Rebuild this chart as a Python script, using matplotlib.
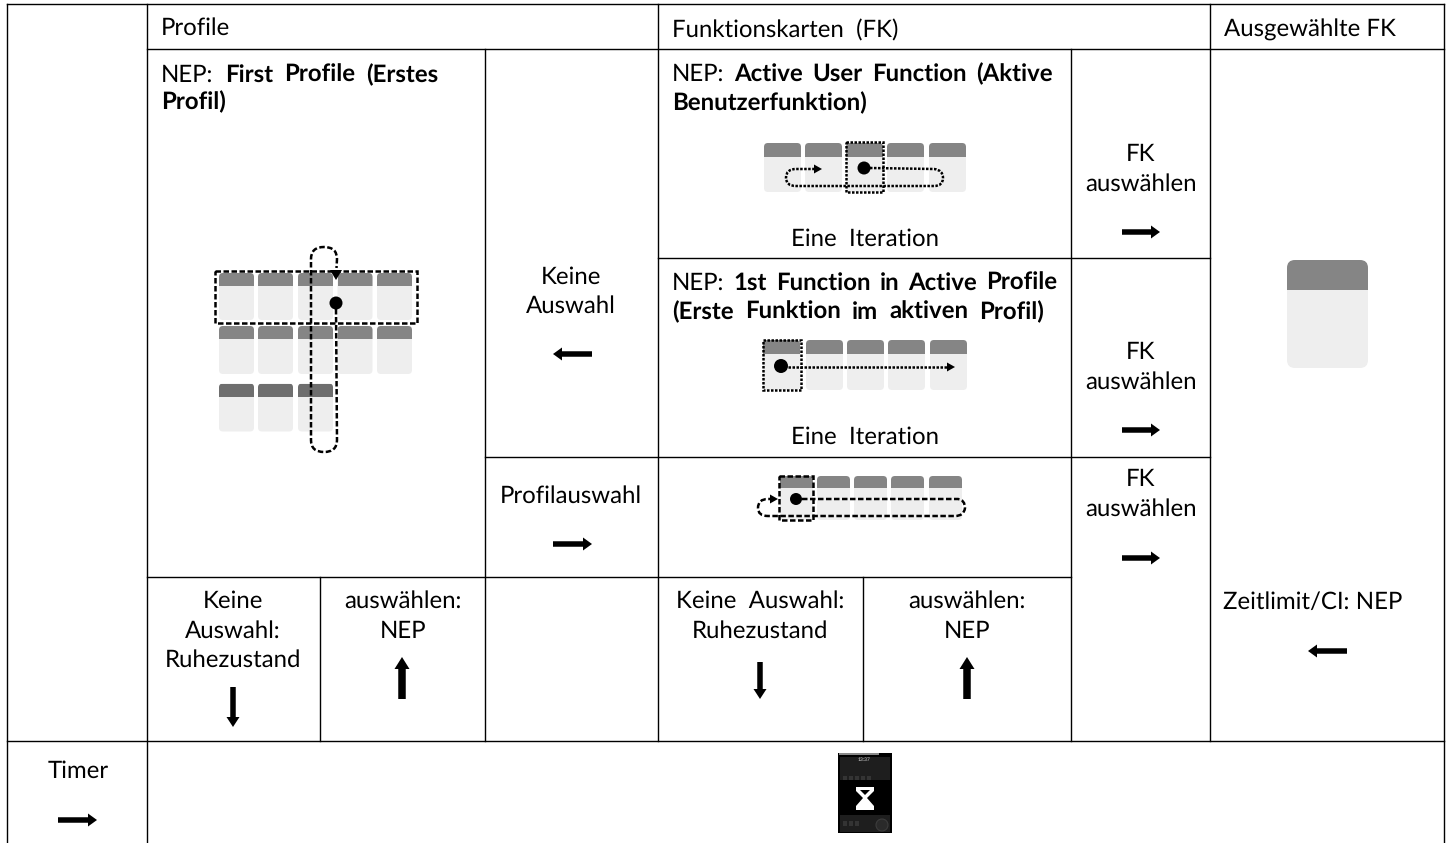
import matplotlib
matplotlib.use("Agg")
import matplotlib.pyplot as plt
from matplotlib.patches import FancyBboxPatch, Rectangle, Circle, PathPatch, Polygon
from matplotlib.path import Path

plt.rcParams['font.family'] = ['Lato', 'DejaVu Sans']
plt.rcParams['text.hinting'] = 'no_hinting'
plt.rcParams['text.hinting_factor'] = 1
FS = 17

# table rules: (x0, y0, x1, y1)
RULES = [
    (7, 4, 1444, 4), (147, 49, 1444, 49), (658, 258, 1210, 258), (485, 457, 1210, 457),
    (147, 577, 1071, 577), (7, 741, 1444, 741),
    (7, 4, 7, 843), (147, 4, 147, 843), (1444, 4, 1444, 843),
    (485, 49, 485, 741), (658, 4, 658, 741), (1071, 49, 1071, 741), (1210, 4, 1210, 741),
    (320, 577, 320, 741), (863, 577, 863, 741),
]
# centred labels: (x, baseline, text)
CENTERED = [
    (571, 284, "Keine"), (571, 313, "Auswahl"), (571, 503, "Profilauswahl"),
    (865, 246, "Eine  Iteration"), (865, 444, "Eine  Iteration"),
    (1141, 161, "FK"), (1141, 191, "auswählen"), (1141, 359, "FK"), (1141, 389, "auswählen"),
    (1141, 486, "FK"), (1141, 516, "auswählen"),
    (233, 608, "Keine"), (233, 638, "Auswahl:"), (233, 667, "Ruhezustand"),
    (403, 608, "auswählen:"), (403, 638, "NEP"),
    (760, 608, "Keine  Auswahl:"), (760, 638, "Ruhezustand"),
    (967, 608, "auswählen:"), (967, 638, "NEP"),
    (1313, 609, "Zeitlimit/CI: NEP"), (78, 778, "Timer"),
]
# left labels: (x, baseline, text)
LEFT = [(161, 35, "Profile"), (672, 37, "Funktionskarten  (FK)"), (1224, 37, "Ausgewählte FK")]
# mixed runs: (x, right edge or None, baseline, [(text, bold), ...])
RUNS = [
    (161, 438, 82, [("NEP:", False), ("First", True), ("Profile", True), ("(Erstes", True)]),
    (161, None, 109, [("Profil)", True)]),
    (672, 1053, 81, [("NEP:", False), ("Active", True), ("User", True), ("Function", True), ("(Aktive", True)]),
    (672, None, 110, [("Benutzerfunktion)", True)]),
    (672, 1057, 290, [("NEP:", False), ("1st", True), ("Function", True), ("in", True), ("Active", True), ("Profile", True)]),
    (672, 1044, 319, [("(Erste", True), ("Funktion", True), ("im", True), ("aktiven", True), ("Profil)", True)]),
]
# horizontal arrows: (x0, y, x1)
H_ARROWS = [
    (592, 354, 553), (553, 544, 592),
    (1122, 232, 1160), (1122, 430, 1160), (1122, 558, 1160),
    (1347, 651, 1308), (58, 820, 97),
]
# vertical arrows: (x, y0, y1)
DOWN_ARROWS = [(233, 687, 727), (760, 662, 699)]
UP_ARROWS = [(402, 699, 657), (967, 699, 657)]
# card groups: (x lefts, y top, width, height, header height, header colour)
CARDS = [
    ([219, 258, 298, 337.5, 377], 273, 35, 47, 13, "#858585"),
    ([219, 258, 298, 337.5, 377], 326, 35, 48, 13, "#858585"),
    ([219, 258, 298], 383.5, 35, 48, 13, "#6e6e6e"),
    ([764, 805, 846, 887, 929], 143, 37, 49, 14, "#858585"),
    ([763, 806, 847, 888, 930], 340, 37, 50, 14, "#858585"),
    ([780, 817, 854, 891, 929], 476, 33, 44, 12, "#858585"),
    ([1287], 260, 81, 108, 30, "#858585"),
]
# black dots: (x, y, radius)
DOTS = [(336, 303, 6.5), (864, 168, 6.5), (781, 366, 7), (796, 499, 6)]
# highlight rectangles: (x, y, w, h, style)
FRAMES = [
    (215, 271, 202, 52, "dashed"), (846, 142, 37, 50, "dotted"),
    (763, 340, 38, 50, "dotted"), (779, 476, 34, 44, "dashed"),
]
STYLES = {"dashed": (0, (2.2, 1.0)), "dotted": (0, (1.0, 0.6))}
# focus paths: style, vertices (M, then L or Q pairs) and arrow tip
FOCUS = [
    ("dashed", [("M", 336, 309), ("L", 337, 440), ("Q", 337, 452), ("", 324, 452),
                ("Q", 311, 452), ("", 311, 440), ("L", 311, 259), ("Q", 311, 247), ("", 324, 247),
                ("Q", 337, 247), ("", 337, 259), ("L", 336.5, 268)], (336, 276, "d")),
    ("dotted", [("M", 870, 168), ("L", 934, 169), ("Q", 943, 170), ("", 943, 178),
                ("Q", 943, 186), ("", 934, 186), ("L", 796, 186), ("Q", 786, 186), ("", 786, 178),
                ("Q", 786, 169), ("", 796, 169), ("L", 815, 169)], (821, 169, "r")),
    ("dotted", [("M", 788, 367), ("L", 947, 367)], (954, 367, "r")),
    ("dashed", [("M", 802, 499), ("L", 958, 499), ("Q", 965, 500), ("", 965, 508),
                ("Q", 964, 516), ("", 955, 516), ("L", 768, 516), ("Q", 758, 516), ("", 758, 508),
                ("Q", 758, 499), ("", 768, 499), ("L", 772, 499)], (777, 499, "r")),
]

fig = plt.figure(figsize=(14.51, 8.43), dpi=100)
ax = fig.add_axes([0, 0, 1, 1])
ax.set_xlim(0, 1451)
ax.set_ylim(843, 0)
ax.axis("off")

for x0, y0, x1, y1 in RULES:
    ax.plot([x0, x1], [y0, y1], color="black", lw=1.0, solid_capstyle="projecting", zorder=5)

for xs, y, w, h, hh, col in CARDS:
    for x in xs:
        r = 8 if w > 50 else 4
        card = FancyBboxPatch((x, y), w, h, boxstyle=f"round,pad=0,rounding_size={r}",
                              fc="#eeeeee", ec="none", zorder=1)
        ax.add_patch(card)
        head = Rectangle((x, y), w, hh, fc=col, ec="none", zorder=1.2)
        ax.add_patch(head)
        head.set_clip_path(card)

for x, y, w, h, st in FRAMES:
    ax.add_patch(Rectangle((x, y), w, h, fill=False, ec="black", lw=1.8, ls=STYLES[st], zorder=3))

CODES = {"M": Path.MOVETO, "L": Path.LINETO, "Q": Path.CURVE3, "": Path.CURVE3}
for st, verts, (tx, ty, d) in FOCUS:
    p = Path([(v[1], v[2]) for v in verts], [CODES[v[0]] for v in verts])
    ax.add_patch(PathPatch(p, fill=False, ec="black", lw=1.8, ls=STYLES[st], zorder=3))
    if d == "r":
        tri = [(tx - 7, ty - 4.5), (tx + 1, ty), (tx - 7, ty + 4.5)]
    else:
        tri = [(tx - 6, ty - 6), (tx + 6, ty - 6), (tx, ty + 4)]
    ax.add_patch(Polygon(tri, fc="black", ec="none", zorder=3.2))

for x, y, r in DOTS:
    ax.add_patch(Circle((x, y), r, fc="black", ec="none", zorder=4))

for x0, y, x1 in H_ARROWS:
    ax.arrow(x0, y, x1 - x0, 0, width=5.5, head_width=13, head_length=9,
             length_includes_head=True, fc="black", ec="none", zorder=4)
for x, y0, y1 in DOWN_ARROWS:
    ax.arrow(x, y0, 0, y1 - y0, width=5.5, head_width=13, head_length=10,
             length_includes_head=True, fc="black", ec="none", zorder=4)
for x, y0, y1 in UP_ARROWS:
    ax.arrow(x, y0, 0, y1 - y0, width=7.5, head_width=15, head_length=12,
             length_includes_head=True, fc="black", ec="none", zorder=4)

for x, y, s in CENTERED:
    ax.text(x, y, s, ha="center", va="baseline", fontsize=FS, color="black")
for x, y, s in LEFT:
    ax.text(x, y, s, ha="left", va="baseline", fontsize=FS, color="black")

fig.canvas.draw()
rend = fig.canvas.get_renderer()
for x, right, y, words in RUNS:
    arts = [ax.text(0, y, s, ha="left", va="baseline", fontsize=FS, color="black",
                    fontweight="bold" if b else "normal") for s, b in words]
    widths = [a.get_window_extent(rend).width for a in arts]
    gap = 6
    if right is not None and len(arts) > 1:
        gap = (right - x - sum(widths)) / (len(arts) - 1)
    cur = x
    for a, w in zip(arts, widths):
        a.set_x(cur)
        cur += w + gap

# hourglass screen thumbnail
ax.add_patch(Rectangle((838, 753), 54, 80, fc="black", ec="none", zorder=1))
ax.add_patch(Rectangle((839, 753), 40, 2, fc="#8a8a8a", ec="none", zorder=1.1))
ax.add_patch(Rectangle((840, 757), 50, 23, fc="#1e1e1e", ec="none", zorder=1.1))
ax.add_patch(Rectangle((840, 815), 50, 17, fc="#1e1e1e", ec="none", zorder=1.1))
for x in [843, 849, 855, 861, 867]:
    ax.add_patch(Rectangle((x, 776), 4, 4, fc="#343434", ec="none", zorder=1.2))
for x in [843, 849, 855]:
    ax.add_patch(Rectangle((x, 821), 4, 5, fc="#343434", ec="none", zorder=1.2))
ax.add_patch(Circle((882, 825), 6, fc="#2a2a2a", ec="#3c3c3c", lw=0.8, zorder=1.2))
ax.text(864, 761, "13:37", ha="center", va="baseline", fontsize=3.5, color="#dddddd", zorder=2)
glass = [(856, 787), (874, 787), (874, 791), (867, 798), (874, 806), (874, 810),
         (856, 810), (856, 806), (863, 798), (856, 791)]
ax.add_patch(Polygon(glass, fc="white", ec="none", zorder=2))
ax.add_patch(Polygon([(860, 790), (870, 790), (865, 795)], fc="black", ec="none", zorder=2.1))

fig.savefig("out.png", dpi=100)
